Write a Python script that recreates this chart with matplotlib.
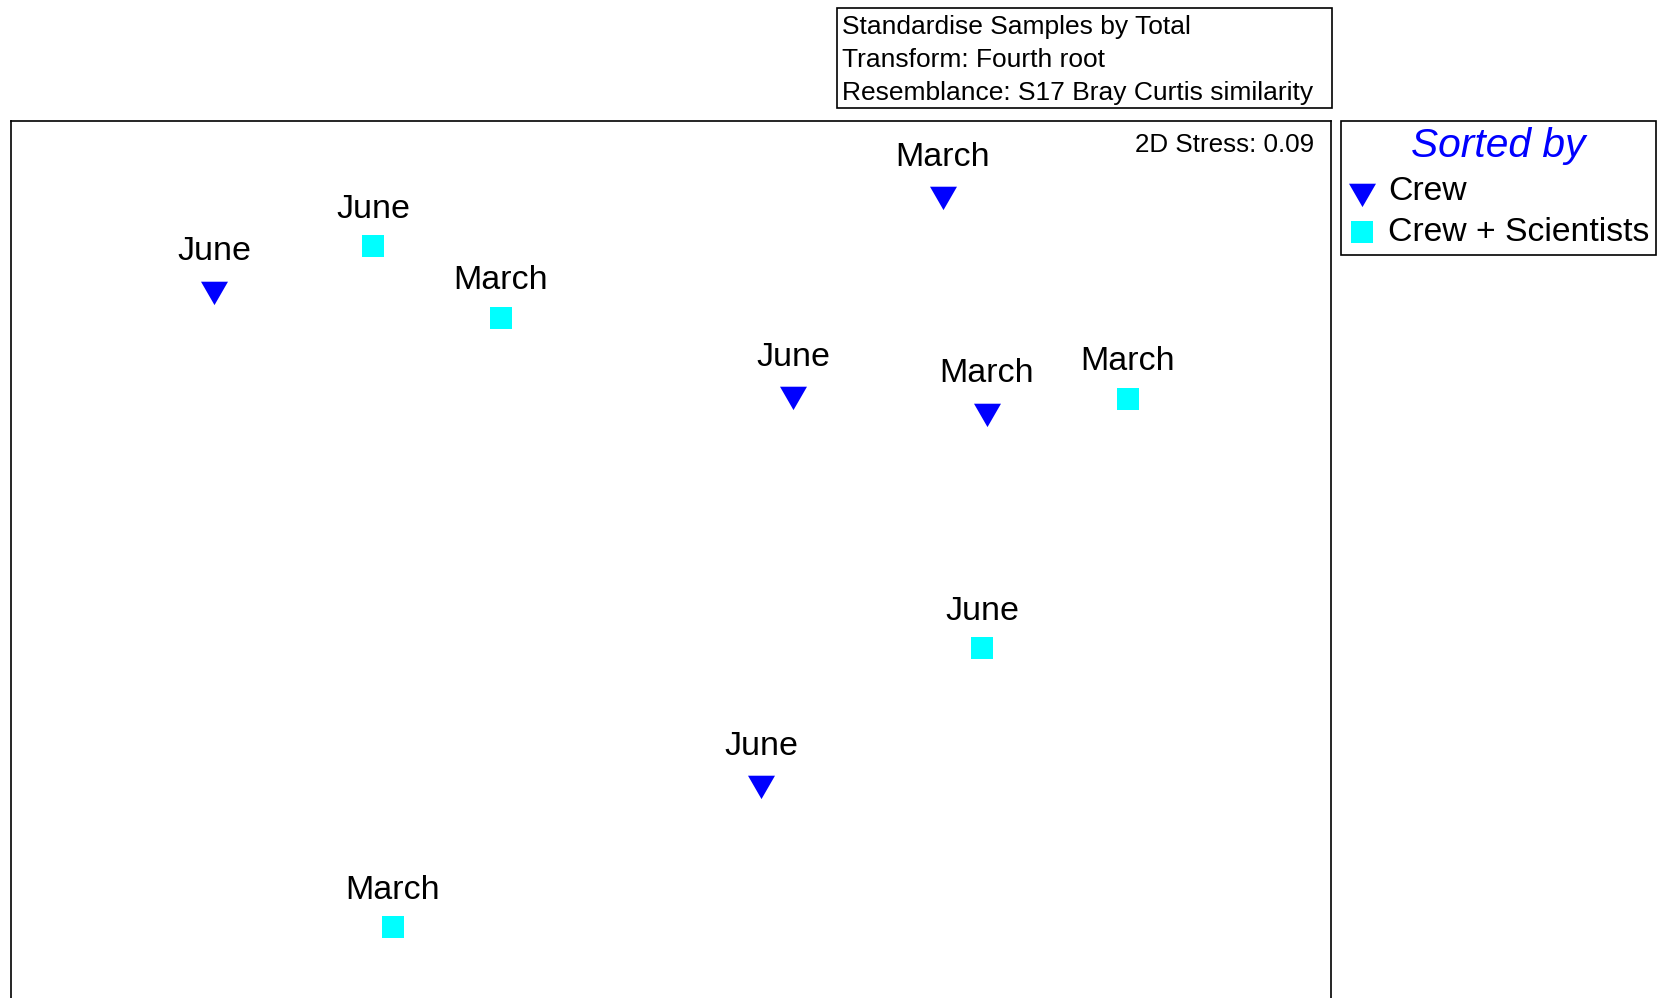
import matplotlib
matplotlib.use("Agg")
import matplotlib.pyplot as plt
from matplotlib.patches import Rectangle

plt.rcParams.update({
    "font.family": ["Liberation Sans", "DejaVu Sans"],
    "figure.dpi": 100,
})

W, H = 1659, 998

# nMDS coordinates per sample
crew_x      = [-1.108, 0.659, 0.296, 0.766, 0.218]
crew_y      = [0.579, 0.816, 0.314, 0.273, -0.661]
crew_labels = ["June", "March", "June", "March", "June"]

sci_x      = [-0.722, -0.412, 1.108, 0.754, -0.674]
sci_y      = [0.686, 0.506, 0.303, -0.322, -1.022]
sci_labels = ["June", "March", "March", "June", "March"]

info_lines = [
    "Standardise Samples by Total",
    "Transform: Fourth root",
    "Resemblance: S17 Bray Curtis similarity",
]
stress = 0.09

BLUE = "#0000FF"
CYAN = "#00FFFF"

# downward triangle, centroid on the point
TRI = [(-1, 0.577), (1, 0.577), (0, -1.155)]

fig = plt.figure(figsize=(W / 100, H / 100), dpi=100)
ax = fig.add_axes([11 / W, 0, 1320 / W, (H - 121) / H])
ax.set_xlim(-1.6, 1.6)
ax.set_ylim(-1.2, 1.0)
ax.set_xticks([])
ax.set_yticks([])
ax.spines["bottom"].set_visible(False)
for s in ["top", "left", "right"]:
    ax.spines[s].set_linewidth(1.2)

h_crew = ax.scatter(crew_x, crew_y, marker=TRI, s=504, color=BLUE, linewidths=0, label="Crew")
h_sci = ax.scatter(sci_x, sci_y, marker="s", s=251, color=CYAN, linewidths=0, label="Crew + Scientists")

for xs, ys, labs in [(crew_x, crew_y, crew_labels), (sci_x, sci_y, sci_labels)]:
    for x, y, lab in zip(xs, ys, labs):
        ax.annotate(lab, (x, y), xytext=(0, 20.5), textcoords="offset points",
                    ha="center", va="baseline", fontsize=24.5)

ax.text(1 - 17 / 1320, 1 - 31 / 877, f"2D Stress: {stress:.2f}", transform=ax.transAxes,
        ha="right", va="baseline", fontsize=18.7)

# settings box above the plot
fig.add_artist(Rectangle((837 / W, 1 - 108 / H), (1332 - 837) / W, (108 - 8) / H,
                         transform=fig.transFigure, fill=False, edgecolor="black", linewidth=1.2))
for i, line in enumerate(info_lines):
    fig.text(842 / W, 1 - (34 + 33 * i) / H, line, ha="left", va="baseline", fontsize=19)

leg = ax.legend(handles=[h_crew, h_sci], loc="upper left",
                bbox_to_anchor=(1341 / W, 1 - 121 / H), bbox_transform=fig.transFigure,
                borderaxespad=0, borderpad=0.19, handlelength=0.88, handletextpad=0.32,
                labelspacing=0.31, scatterpoints=1, fontsize=24.3,
                title="Sorted by", title_fontproperties={"style": "italic", "size": 29.3},
                frameon=True, fancybox=False, framealpha=1, edgecolor="black")
leg.get_title().set_color(BLUE)
leg.get_frame().set_linewidth(1.2)

fig.savefig("out.png", dpi=100)
